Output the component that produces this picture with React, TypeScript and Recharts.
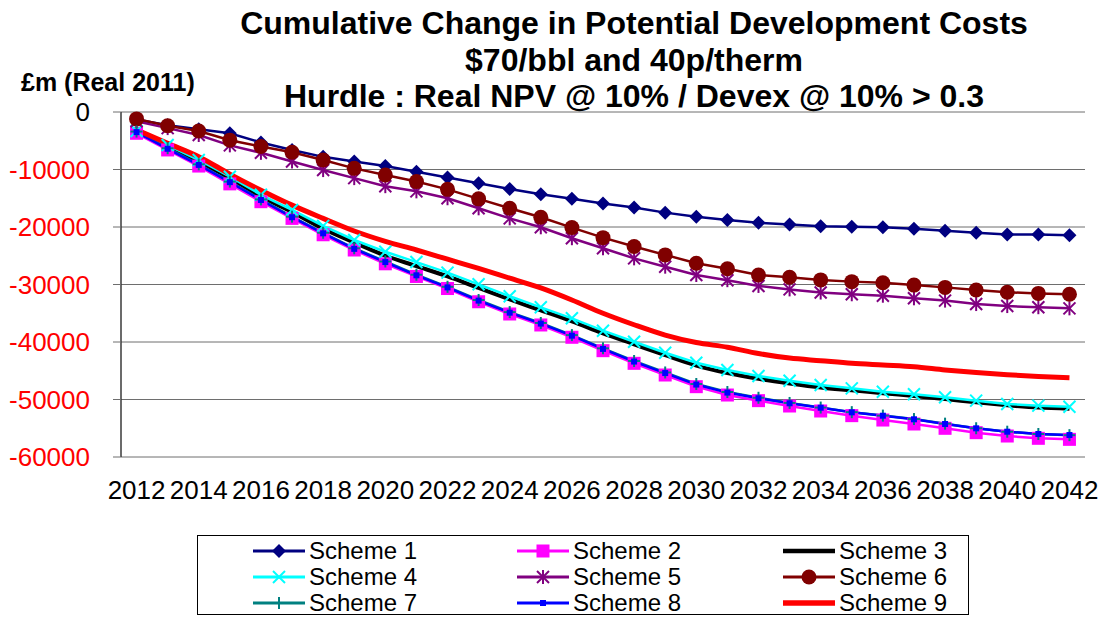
import { CartesianGrid, Line, LineChart, XAxis, YAxis } from "recharts";

const years = [
  2012, 2013, 2014, 2015, 2016, 2017, 2018, 2019, 2020, 2021, 2022, 2023, 2024, 2025, 2026, 2027,
  2028, 2029, 2030, 2031, 2032, 2033, 2034, 2035, 2036, 2037, 2038, 2039, 2040, 2041, 2042,
];
const yearTicks = [
  2012, 2014, 2016, 2018, 2020, 2022, 2024, 2026, 2028, 2030, 2032, 2034, 2036, 2038, 2040, 2042,
];
const valueTicks = [0, -10000, -20000, -30000, -40000, -50000, -60000];

const scheme1 = [
  -1300, -2300, -3000, -3700, -5300, -6600, -7800, -8600, -9400, -10400, -11400, -12400, -13400,
  -14300, -15100, -15900, -16600, -17500, -18200, -18800, -19250, -19550, -19850, -19950, -20050,
  -20300, -20650, -21000, -21300, -21300, -21450,
];
const scheme2 = [
  -3700, -6600, -9400, -12500, -15600, -18500, -21350, -24000, -26400, -28600, -30700, -33000,
  -35130, -37040, -39180, -41510, -43710, -45740, -47770, -49220, -50200, -51130, -52000, -52810,
  -53570, -54260, -55010, -55770, -56350, -56750, -56930,
];
const scheme3 = [
  -3300, -5900, -8600, -11500, -14700, -17400, -20300, -22700, -25000, -26800, -28600, -30600,
  -32600, -34500, -36400, -38500, -40400, -42300, -44100, -45400, -46400, -47200, -47900, -48400,
  -48900, -49400, -49900, -50500, -51000, -51400, -51600,
];
const scheme4 = [
  -3300, -5740, -8350, -11250, -14400, -17040, -19800, -22260, -24300, -26100, -27940, -29970,
  -32050, -33970, -35880, -38030, -39950, -41860, -43600, -44870, -45910, -46730, -47480, -48060,
  -48640, -49100, -49620, -50200, -50780, -51070, -51250,
];
const scheme5 = [
  -1600, -2800, -4000, -5800, -7100, -8600, -10100, -11500, -12900, -13800, -15000, -16750, -18500,
  -20050, -21950, -23700, -25450, -26900, -28350, -29250, -30250, -30850, -31400, -31700, -31950,
  -32400, -32800, -33400, -33750, -33950, -34150,
];
const scheme6 = [
  -1200, -2400, -3300, -4900, -6000, -7000, -8350, -9800, -10950, -12100, -13450, -15100, -16750,
  -18300, -20100, -21850, -23400, -24850, -26300, -27250, -28350, -28750, -29200, -29500, -29700,
  -30100, -30500, -30950, -31350, -31550, -31700,
];
const scheme7 = [
  -3400, -6300, -9100, -12100, -15200, -18200, -21000, -23700, -26000, -28300, -30400, -32700,
  -34800, -36700, -38800, -41100, -43300, -45300, -47300, -48700, -49700, -50600, -51400, -52200,
  -52800, -53400, -54200, -55000, -55600, -56000, -56200,
];
const scheme8 = [
  -3500, -6400, -9200, -12200, -15300, -18300, -21100, -23800, -26100, -28400, -30500, -32800,
  -34900, -36800, -38900, -41200, -43400, -45400, -47400, -48800, -49790, -50660, -51430, -52230,
  -52820, -53440, -54260, -55010, -55600, -56000, -56170,
];
const scheme9 = [
  -3100, -5450, -7770, -10800, -13600, -16200, -18500, -20700, -22500, -24000, -25600, -27200,
  -28900, -30600, -32700, -35000, -37000, -38800, -40100, -40900, -42000, -42800, -43250, -43700,
  -44000, -44300, -44850, -45300, -45700, -46000, -46200,
];

const seriesValues = [scheme1, scheme2, scheme3, scheme4, scheme5, scheme6, scheme7, scheme8, scheme9];
const seriesNames = [
  "Scheme 1",
  "Scheme 2",
  "Scheme 3",
  "Scheme 4",
  "Scheme 5",
  "Scheme 6",
  "Scheme 7",
  "Scheme 8",
  "Scheme 9",
];

const rows = years.map((year, i) => {
  const row: Record<string, number> = { year };
  seriesValues.forEach((values, s) => {
    row[`s${s + 1}`] = values[i];
  });
  return row;
});

// category boundaries for the little tick marks along the top axis
const boundaryTicks = [...years.map((y) => y - 0.5), 2042.5];

const font = '"Liberation Sans", Arial, sans-serif';

type MarkerKind = "diamond" | "square" | "none" | "x" | "star" | "circle" | "plus" | "small";

const styles: { color: string; width: number; marker: MarkerKind; curve: "linear" | "monotone" }[] = [
  { color: "#000080", width: 2.5, marker: "diamond", curve: "linear" },
  { color: "#ff00ff", width: 2.5, marker: "square", curve: "linear" },
  { color: "#000000", width: 4, marker: "none", curve: "monotone" },
  { color: "#00ffff", width: 2.5, marker: "x", curve: "linear" },
  { color: "#800080", width: 2.5, marker: "star", curve: "linear" },
  { color: "#800000", width: 2.5, marker: "circle", curve: "linear" },
  { color: "#008080", width: 2.5, marker: "plus", curve: "linear" },
  { color: "#0000ff", width: 2.5, marker: "small", curve: "linear" },
  { color: "#ff0000", width: 5, marker: "none", curve: "monotone" },
];

function Marker({ kind, cx, cy, color }: { kind: MarkerKind; cx: number; cy: number; color: string }) {
  if (kind === "diamond") {
    const r = 7;
    return <polygon points={`${cx},${cy - r} ${cx + r},${cy} ${cx},${cy + r} ${cx - r},${cy}`} fill={color} />;
  }
  if (kind === "square") {
    return <rect x={cx - 6.5} y={cy - 6.5} width={13} height={13} fill={color} />;
  }
  if (kind === "small") {
    return <rect x={cx - 3} y={cy - 3} width={6} height={6} fill={color} />;
  }
  if (kind === "circle") {
    return <circle cx={cx} cy={cy} r={7.5} fill={color} />;
  }
  if (kind === "x") {
    const r = 6;
    return (
      <g stroke={color} strokeWidth={2}>
        <line x1={cx - r} y1={cy - r} x2={cx + r} y2={cy + r} />
        <line x1={cx - r} y1={cy + r} x2={cx + r} y2={cy - r} />
      </g>
    );
  }
  if (kind === "star") {
    const r = 6;
    return (
      <g stroke={color} strokeWidth={2}>
        <line x1={cx - r} y1={cy - r} x2={cx + r} y2={cy + r} />
        <line x1={cx - r} y1={cy + r} x2={cx + r} y2={cy - r} />
        <line x1={cx} y1={cy - r - 1} x2={cx} y2={cy + r + 1} />
      </g>
    );
  }
  if (kind === "plus") {
    const r = 6;
    return (
      <g stroke={color} strokeWidth={2}>
        <line x1={cx - r} y1={cy} x2={cx + r} y2={cy} />
        <line x1={cx} y1={cy - r} x2={cx} y2={cy + r} />
      </g>
    );
  }
  return null;
}

function ValueTick({ x, y, payload }: any) {
  const v = Number(payload.value);
  return (
    <text x={x} y={y} dy={9} textAnchor="end" fontSize={26} fontFamily={font} fill={v < 0 ? "#ff0000" : "#000000"}>
      {v}
    </text>
  );
}

function YearTick({ x, y, payload }: any) {
  return (
    <text x={x} y={y + 42} textAnchor="middle" fontSize={26} fontFamily={font} fill="#000000">
      {payload.value}
    </text>
  );
}

const legendCols = [55, 319, 585];
const legendRows = [15, 41, 67];

function LegendBox() {
  return (
    <div
      style={{
        position: "absolute",
        left: 197,
        top: 535,
        width: 772,
        height: 80,
        border: "1px solid #000",
        boxSizing: "border-box",
        background: "#fff",
      }}
    >
      {seriesNames.map((name, i) => {
        const style = styles[i];
        const col = legendCols[i % 3];
        const row = legendRows[Math.floor(i / 3)];
        return (
          <div key={name} style={{ position: "absolute", left: col, top: row - 13, height: 26, display: "flex", alignItems: "center" }}>
            <svg width={54} height={26} style={{ display: "block" }}>
              <line x1={0} y1={13} x2={52} y2={13} stroke={style.color} strokeWidth={style.width + 0.5} />
              <Marker kind={style.marker} cx={26} cy={13} color={style.color} />
            </svg>
            <span style={{ fontFamily: font, fontSize: 24, lineHeight: "26px", marginLeft: 2, color: "#000" }}>{name}</span>
          </div>
        );
      })}
    </div>
  );
}

const titleLines = [
  "Cumulative Change in Potential Development Costs",
  "$70/bbl and 40p/therm",
  "Hurdle : Real NPV @ 10% / Devex @ 10% > 0.3",
];

export default function App() {
  return (
    <div style={{ position: "absolute", left: 0, top: 0, width: 1105, height: 617, background: "#fff", fontFamily: font }}>
      <LineChart width={1105} height={617} data={rows} margin={{ top: 112, right: 20, bottom: 120, left: 21 }}>
        <CartesianGrid vertical={false} stroke="#6e6e6e" strokeWidth={1} />
        <XAxis
          dataKey="year"
          type="number"
          domain={[2011.5, 2042.5]}
          ticks={yearTicks}
          interval={0}
          axisLine={false}
          tickLine={false}
          tickSize={0}
          tickMargin={0}
          height={40}
          tick={<YearTick />}
        />
        <XAxis
          xAxisId="top"
          orientation="top"
          type="number"
          domain={[2011.5, 2042.5]}
          ticks={boundaryTicks}
          interval={0}
          height={0}
          mirror
          tick={false}
          tickSize={6}
          axisLine={{ stroke: "#000", strokeWidth: 1.5 }}
          tickLine={{ stroke: "#000", strokeWidth: 1 }}
        />
        <YAxis
          type="number"
          domain={[-60000, 0]}
          ticks={valueTicks}
          interval={0}
          width={100}
          tickSize={8}
          tickMargin={23}
          axisLine={{ stroke: "#3a3a3a", strokeWidth: 1.5 }}
          tickLine={{ stroke: "#6e6e6e" }}
          tick={<ValueTick />}
        />
        {styles.map((style, i) => (
          <Line
            key={seriesNames[i]}
            dataKey={`s${i + 1}`}
            name={seriesNames[i]}
            type={style.curve}
            stroke={style.color}
            strokeWidth={style.width}
            isAnimationActive={false}
            activeDot={false}
            dot={
              style.marker === "none"
                ? false
                : (props: any) => (
                    <Marker key={`${i}-${props.index}`} kind={style.marker} cx={props.cx} cy={props.cy} color={style.color} />
                  )
            }
          />
        ))}
      </LineChart>

      {titleLines.map((line, i) => (
        <div
          key={line}
          style={{
            position: "absolute",
            left: 234,
            width: 800,
            top: 5 + i * 36.6,
            textAlign: "center",
            fontSize: 32,
            fontWeight: "bold",
            lineHeight: "36px",
            whiteSpace: "nowrap",
          }}
        >
          {line}
        </div>
      ))}
      <div style={{ position: "absolute", left: 21, top: 72, fontSize: 25, fontWeight: "bold", lineHeight: "21px", whiteSpace: "nowrap" }}>
        £m (Real 2011)
      </div>
      <LegendBox />
    </div>
  );
}
